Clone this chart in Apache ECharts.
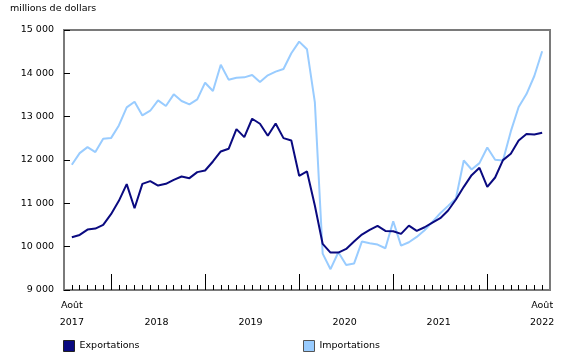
<!DOCTYPE html>
<html>
<head>
<meta charset="utf-8">
<script src="https://cdn.jsdelivr.net/npm/echarts@6/dist/echarts.min.js"></script>
<style>
html,body{margin:0;padding:0;background:#fff;}
#chart{width:580px;height:360px;}
</style>
</head>
<body>
<div id="chart"></div>
<script>
// Monthly values, August 2017 to August 2022 (millions of dollars)
var startYear = 2017;
var startMonth = 8; // August
var exportsValues = [10217,10271,10394,10418,10502,10749,11057,11442,10888,11450,11512,11411,11450,11542,11619,11581,11720,11758,11966,12197,12259,12713,12529,12952,12837,12559,12844,12505,12451,11635,11735,10949,10063,9863,9863,9948,10117,10279,10387,10479,10364,10356,10294,10487,10364,10448,10556,10656,10834,11088,11381,11650,11820,11381,11596,11997,12143,12451,12598,12590,12629];
var importsValues = [11889,12159,12297,12182,12490,12505,12798,13214,13345,13029,13137,13376,13245,13515,13361,13284,13399,13784,13592,14200,13854,13900,13907,13961,13800,13954,14039,14100,14462,14732,14555,13337,9840,9480,9871,9578,9609,10117,10079,10048,9963,10587,10025,10102,10225,10379,10572,10772,10941,11111,11989,11781,11928,12290,12005,11989,12660,13222,13522,13938,14508];
var seriesNames = ['Exportations', 'Importations'];
var yearLabels = ['2018', '2019', '2020', '2021'];
var endLabel = 'Août';
var yTicks = [9000, 10000, 11000, 12000, 13000, 14000, 15000];
var unitTitle = 'millions de dollars';

var n = exportsValues.length;
function pairs(arr){ return arr.map(function(v,i){ return [i, v]; }); }
var monthTicks = exportsValues.map(function(v,i){ return i; });
// January indices (year boundaries)
var janTicks = [];
for (var i = 0; i < n; i++) { if ((startMonth - 1 + i) % 12 === 0) janTicks.push(i); }
// label positions
var labelPos = [0];
var labelText = {};
labelText[0] = endLabel + '\n' + startYear;
yearLabels.forEach(function(y, k){ var p = janTicks[k] + 5.8; labelPos.push(p); labelText[p] = '\n' + y; });
labelPos.push(n - 1);
labelText[n - 1] = endLabel + '\n' + (startYear + 5);

var FONT = 'DejaVu Sans';
function fmt(v){ return String(v).replace(/\B(?=(\d{3})+(?!\d))/g, ' '); }

var chart = echarts.init(document.getElementById('chart'), null, {renderer: 'canvas'});
chart.setOption({
  animation: false,
  backgroundColor: '#ffffff',
  textStyle: {fontFamily: FONT},
  title: {
    text: unitTitle, left: 10, top: 4, padding: 0,
    textStyle: {fontFamily: FONT, fontSize: 9.5, fontWeight: 'normal', color: '#000'}
  },
  grid: {left: 64, right: 30, top: 30, bottom: 70, show: true, borderColor: '#7a7a7a', borderWidth: 2, backgroundColor: 'transparent'},
  legend: [
    {data: [{name: seriesNames[0]}], left: 63, top: 340, padding: 0, icon: 'rect', itemWidth: 11, itemHeight: 11,
     itemStyle: {borderColor: '#222', borderWidth: 1},
     textStyle: {fontFamily: FONT, fontSize: 9.5, color: '#000'}, selectedMode: false},
    {data: [{name: seriesNames[1]}], left: 303, top: 340, padding: 0, icon: 'rect', itemWidth: 11, itemHeight: 11,
     itemStyle: {borderColor: '#555', borderWidth: 1},
     textStyle: {fontFamily: FONT, fontSize: 9.5, color: '#000'}, selectedMode: false}
  ],
  xAxis: [
    {
      type: 'value', min: -1, max: n, position: 'bottom',
      splitLine: {show: false},
      axisLine: {show: true, onZero: false, lineStyle: {color: '#7a7a7a', width: 2}},
      axisTick: {show: true, inside: true, length: 5, customValues: monthTicks, lineStyle: {color: '#000', width: 1}},
      axisLabel: {show: true, customValues: labelPos, margin: 7, lineHeight: 17,
        fontFamily: FONT, fontSize: 9.5, color: '#000',
        formatter: function(v){ return labelText[v] !== undefined ? labelText[v] : ''; }}
    },
    {
      type: 'value', min: -1, max: n, position: 'bottom',
      splitLine: {show: false},
      axisLine: {show: false, onZero: false},
      axisTick: {show: true, inside: true, length: 16, customValues: janTicks, lineStyle: {color: '#000', width: 1}},
      axisLabel: {show: false}
    }
  ],
  yAxis: {
    type: 'value', min: yTicks[0], max: yTicks[yTicks.length - 1], interval: 1000,
    splitLine: {show: false},
    axisLine: {show: true, onZero: false, lineStyle: {color: '#7a7a7a', width: 2}},
    axisTick: {show: true, inside: true, length: 6, lineStyle: {color: '#000', width: 1}},
    axisLabel: {margin: 10, fontFamily: FONT, fontSize: 9.5, color: '#000', formatter: fmt}
  },
  series: [
    {name: seriesNames[0], type: 'line', xAxisIndex: 0, data: pairs(exportsValues), symbol: 'none',
     lineStyle: {color: '#0a0a80', width: 2}, itemStyle: {color: '#0a0a80'}, z: 3},
    {name: seriesNames[1], type: 'line', xAxisIndex: 0, data: pairs(importsValues), symbol: 'none',
     lineStyle: {color: '#99ccff', width: 2}, itemStyle: {color: '#99ccff'}, z: 2}
  ]
});
</script>
</body>
</html>
